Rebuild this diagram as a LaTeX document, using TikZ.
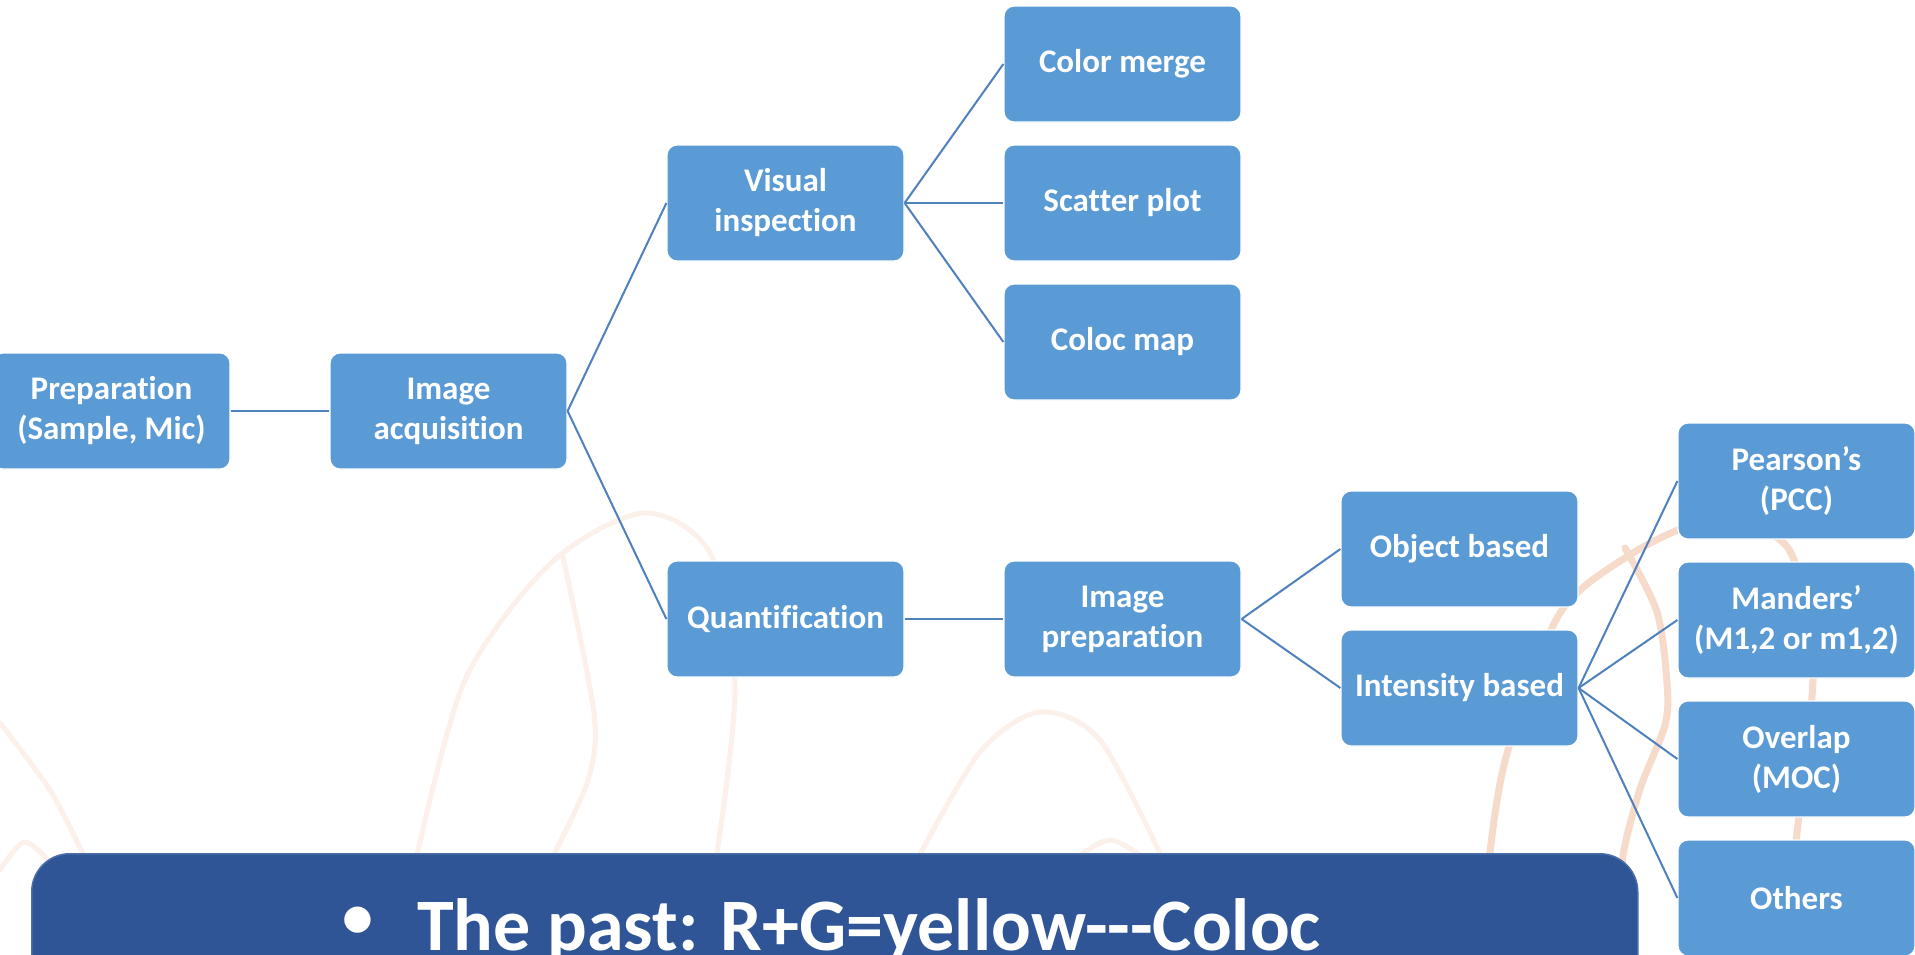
\documentclass[tikz,border=0pt]{standalone}
\usepackage{fontspec}
\setmainfont{Carlito}[Ligatures={NoCommon}]
\definecolor{boxblue}{HTML}{5B9BD5}
\definecolor{lineblue}{HTML}{4F81BD}
\definecolor{darkblue}{HTML}{2F5597}
\definecolor{darkedge}{HTML}{4A6FA8}
\definecolor{peach}{HTML}{F6DACA}
\definecolor{peachlight}{HTML}{FCF0EA}
\begin{document}
\begin{tikzpicture}[x=1pt,y=-1pt,
  box/.style={rectangle, rounded corners=10pt, fill=boxblue, draw=white, line width=1.2pt,
    minimum width=237pt, minimum height=116pt, inner sep=0pt, text=white, align=center,
    font=\bfseries\fontsize{33}{40}\selectfont},
  link/.style={draw=lineblue, line width=2pt},
  deco/.style={draw=peach, line width=7pt, line cap=round},
  decofaint/.style={draw=peachlight, line width=5pt, line cap=round}]
\useasboundingbox (0,0) rectangle (1915,954);
\fill[white] (0,0) rectangle (1915,954);

% background decoration
\draw[decofaint] plot[smooth] coordinates {(416,860) (465,680) (551,563) (643,513) (710,553) (735,687) (716,860)};
\draw[decofaint] plot[smooth] coordinates {(563,557) (594,713) (588,780) (551,860)};
\draw[decofaint] plot[smooth] coordinates {(0,723) (50,790) (86,860)};
\draw[decofaint] plot[smooth] coordinates {(0,870) (24,842) (48,860)};
\draw[decofaint] plot[smooth] coordinates {(917,860) (980,752) (1040,712) (1100,740) (1163,860)};
\draw[decofaint] plot[smooth] coordinates {(1073,860) (1110,840) (1147,860)};
\draw[deco] plot[smooth] coordinates {(1482,960) (1490,852) (1508,750) (1560,613) (1633,553) (1700,522) (1745,522) (1788,548) (1808,612) (1813,680) (1803,780) (1792,880) (1788,960)};
\draw[deco] plot[smooth] coordinates {(1625,548) (1657,612) (1667,683) (1665,725) (1640,789) (1623,856) (1625,900) (1635,960)};

% nodes
\node[box] (prep) at (111.5,411) {Preparation\\(Sample, Mic)};
\node[box] (acq) at (448.5,411) {Image\\acquisition};
\node[box] (vis) at (785.5,203) {Visual\\inspection};
\node[box] (quant) at (785.5,619) {Quantification};
\node[box] (merge) at (1122.5,64) {Color merge};
\node[box] (scatter) at (1122.5,203) {Scatter plot};
\node[box] (cmap) at (1122.5,342) {Coloc map};
\node[box] (iprep) at (1122.5,619) {Image\\preparation};
\node[box] (obj) at (1459.5,549) {Object based};
\node[box] (inten) at (1459.5,688) {Intensity based};
\node[box] (pear) at (1796.5,481) {Pearson’s\\(PCC)};
\node[box] (mand) at (1796.5,620) {Manders’\\(M1,2 or m1,2)};
\node[box] (over) at (1796.5,759) {Overlap\\(MOC)};
\node[box] (others) at (1796.5,898) {Others};

% connectors
\draw[link] (prep.east) -- (acq.west);
\draw[link] (acq.east) -- (vis.west);
\draw[link] (acq.east) -- (quant.west);
\draw[link] (vis.east) -- (merge.west);
\draw[link] (vis.east) -- (scatter.west);
\draw[link] (vis.east) -- (cmap.west);
\draw[link] (quant.east) -- (iprep.west);
\draw[link] (iprep.east) -- (obj.west);
\draw[link] (iprep.east) -- (inten.west);
\draw[link] (inten.east) -- (pear.west);
\draw[link] (inten.east) -- (mand.west);
\draw[link] (inten.east) -- (over.west);
\draw[link] (inten.east) -- (others.west);

% bottom banner
\node[anchor=north west, rectangle, rounded corners=38pt, fill=darkblue, draw=darkedge, line width=1.5pt,
  minimum width=1606pt, minimum height=160pt, inner sep=0pt] (pastbox) at (31,853) {};
\node[inner sep=0pt, text=white, font=\bfseries\fontsize{62}{70}\selectfont] (bullet) at (358,922) {•};
\node[anchor=base west, text=white, inner sep=0pt, font=\bfseries\fontsize{74}{88}\selectfont] (past) at (417,950)
  {The past: R+G=yellow-\kern0pt-\kern0pt-Coloc};
\end{tikzpicture}
\end{document}
